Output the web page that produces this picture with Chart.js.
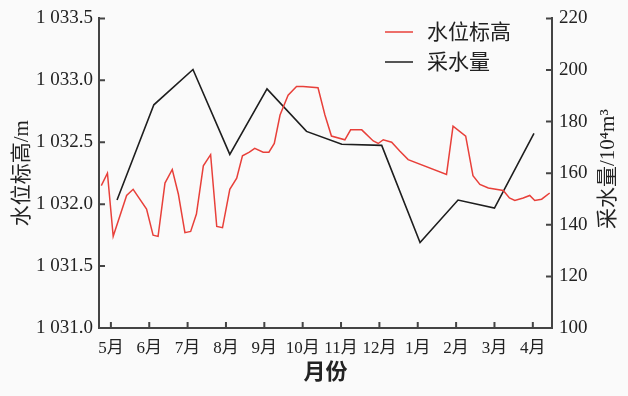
<!DOCTYPE html>
<html>
<head>
<meta charset="utf-8">
<script src="https://cdn.jsdelivr.net/npm/chart.js@4/dist/chart.umd.min.js"></script>
<style>
  body { margin: 0; background: #fafafa; }
  canvas { display: block; }
</style>
</head>
<body>
<canvas id="chart" width="628" height="396"></canvas>
<script>
// months along the bottom axis, 0 = May ... 11 = April
const monthLabels = ["5月", "6月", "7月", "8月", "9月", "10月", "11月", "12月", "1月", "2月", "3月", "4月"];

// water level (m), time in months from the May tick
const levelTime = [
  -0.25, -0.09, 0.06, 0.41, 0.58, 0.93, 1.1, 1.23, 1.41, 1.6,
  1.76, 1.93, 2.08, 2.23, 2.41, 2.6, 2.76, 2.91, 3.1, 3.28,
  3.43, 3.61, 3.75, 3.97, 4.12, 4.26, 4.41, 4.62, 4.84, 5.01,
  5.4, 5.58, 5.75, 6.1, 6.25, 6.54, 6.84, 6.97, 7.1, 7.32,
  7.53, 7.75, 8.75, 8.92, 9.25, 9.44, 9.62, 9.84, 10.23, 10.39,
  10.53, 10.75, 10.92, 11.05, 11.23, 11.44
];
const levelValue = [
  1032.15, 1032.25, 1031.74, 1032.07, 1032.12, 1031.96, 1031.75, 1031.74, 1032.17, 1032.28,
  1032.08, 1031.77, 1031.78, 1031.92, 1032.31, 1032.4, 1031.82, 1031.81, 1032.12, 1032.21,
  1032.39, 1032.42, 1032.45, 1032.42, 1032.42, 1032.49, 1032.72, 1032.88, 1032.95, 1032.95,
  1032.94, 1032.72, 1032.55, 1032.52, 1032.6, 1032.6, 1032.51, 1032.49, 1032.52, 1032.5,
  1032.43, 1032.36, 1032.24, 1032.63, 1032.55, 1032.23, 1032.16, 1032.13, 1032.11, 1032.05,
  1032.03, 1032.05, 1032.07, 1032.03, 1032.04, 1032.09
];

// pumped water (10^4 m^3), one value per month
const pumpTime = [0.16, 1.12, 2.14, 3.1, 4.07, 5.1, 6.02, 7.06, 8.06, 9.05, 10.0, 11.03];
const pumpValue = [149.6, 186.5, 200.2, 167.3, 192.7, 176.2, 171.2, 170.8, 133.1, 149.6, 146.5, 175.4];

const axisColor = "#444";
const textColor = "#222";
const serif = "'Liberation Serif', 'Noto Sans CJK SC', serif";
const pumpTitle = "采水量/10⁴m³";

function levelLabel(v) {
  const s = v.toFixed(1);
  return s[0] + " " + s.slice(1);
}

// ticks point into the plot, like the printed figure
const innerTicks = {
  id: "innerTicks",
  afterDraw(chart) {
    const { ctx, scales } = chart;
    const len = 6;
    ctx.save();
    ctx.strokeStyle = axisColor;
    ctx.lineWidth = 2;
    ctx.beginPath();
    scales.x.ticks.forEach((t) => {
      const px = scales.x.getPixelForValue(t.value);
      ctx.moveTo(px, scales.x.top);
      ctx.lineTo(px, scales.x.top - len);
    });
    scales.yLevel.ticks.forEach((t) => {
      const py = scales.yLevel.getPixelForValue(t.value);
      ctx.moveTo(scales.yLevel.right, py);
      ctx.lineTo(scales.yLevel.right + len, py);
    });
    scales.yPump.ticks.forEach((t) => {
      const py = scales.yPump.getPixelForValue(t.value);
      ctx.moveTo(scales.yPump.left, py);
      ctx.lineTo(scales.yPump.left - len, py);
    });
    ctx.stroke();
    ctx.restore();
  },
};

// legend inside the plot (top right) and the right axis title, read bottom to top
const innerLegend = {
  id: "innerLegend",
  afterDraw(chart) {
    const { ctx, chartArea } = chart;
    ctx.save();
    ctx.font = "21px " + serif;
    ctx.textBaseline = "middle";
    chart.data.datasets.forEach((ds, i) => {
      const y = 32 + i * 30;
      ctx.strokeStyle = ds.borderColor;
      ctx.lineWidth = 1.5;
      ctx.beginPath();
      ctx.moveTo(385, y);
      ctx.lineTo(413, y);
      ctx.stroke();
      ctx.fillStyle = textColor;
      ctx.fillText(ds.label, 427, y + 1);
    });

    ctx.translate(chart.width - 20, (chartArea.top + chartArea.bottom) / 2 - 4);
    ctx.rotate(-Math.PI / 2);
    ctx.textAlign = "center";
    ctx.fillText(pumpTitle, 0, 0);
    ctx.restore();
  },
};

new Chart(document.getElementById("chart"), {
  type: "line",
  data: {
    datasets: [
      {
        label: "水位标高",
        data: levelTime.map((t, i) => ({ x: t, y: levelValue[i] })),
        yAxisID: "yLevel",
        borderColor: "#e8403a",
        borderWidth: 1.5,
        pointRadius: 0,
        tension: 0,
      },
      {
        label: "采水量",
        data: pumpTime.map((t, i) => ({ x: t, y: pumpValue[i] })),
        yAxisID: "yPump",
        borderColor: "#1e1e1e",
        borderWidth: 1.6,
        pointRadius: 0,
        tension: 0,
      },
    ],
  },
  options: {
    responsive: false,
    animation: false,
    layout: { padding: { top: 16, left: 0, right: 0, bottom: 0 } },
    plugins: {
      legend: { display: false },
      tooltip: { enabled: false },
    },
    scales: {
      x: {
        type: "linear",
        min: -0.31,
        max: 11.5,
        afterBuildTicks: (scale) => {
          scale.ticks = monthLabels.map((_, i) => ({ value: i }));
        },
        afterFit: (scale) => {
          scale.height = 68;
        },
        grid: { display: false, drawTicks: false },
        border: { display: true, color: axisColor, width: 2 },
        ticks: {
          autoSkip: false,
          maxRotation: 0,
          padding: 10,
          color: textColor,
          font: { size: 17, family: serif },
          callback: (v) => monthLabels[v],
        },
        title: {
          display: true,
          text: "月份",
          color: textColor,
          padding: { top: 0, bottom: 9 },
          font: { size: 22, family: serif, weight: "bold" },
        },
      },
      yLevel: {
        position: "left",
        min: 1031,
        max: 1033.5,
        afterFit: (scale) => {
          scale.width = 99;
        },
        grid: { display: false, drawTicks: false },
        border: { display: true, color: axisColor, width: 2 },
        ticks: {
          stepSize: 0.5,
          padding: 6,
          color: textColor,
          font: { size: 19, family: serif },
          callback: (v) => levelLabel(v),
        },
        title: {
          display: true,
          text: "水位标高/m",
          color: textColor,
          padding: { top: 10, bottom: 0 },
          font: { size: 21, family: serif },
        },
      },
      yPump: {
        position: "right",
        min: 100,
        max: 220,
        afterFit: (scale) => {
          scale.width = 76;
        },
        grid: { display: false, drawTicks: false },
        border: { display: true, color: axisColor, width: 2 },
        ticks: {
          stepSize: 20,
          padding: 7,
          color: textColor,
          font: { size: 19, family: serif },
        },
        title: { display: false },
      },
    },
  },
  plugins: [innerTicks, innerLegend],
});
</script>
</body>
</html>
